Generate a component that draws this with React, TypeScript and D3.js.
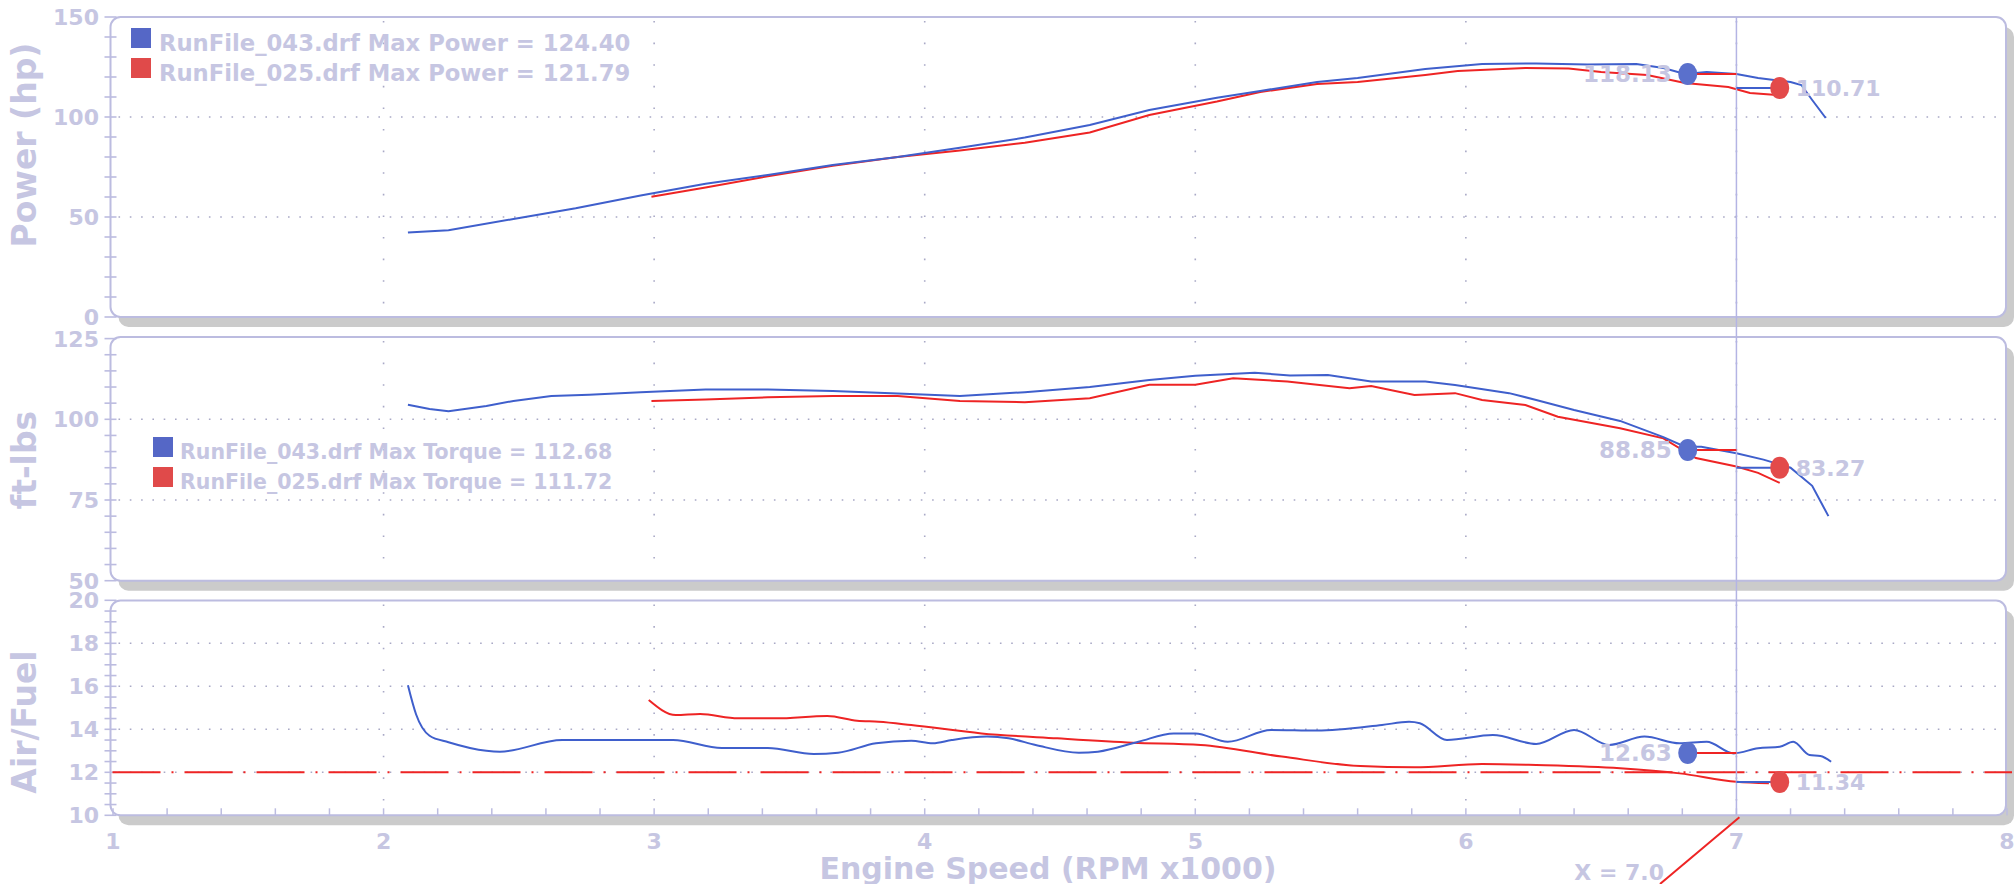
import React from "react";
import * as d3 from "d3";

// ---------- data ----------
const rpmTicks = [1, 2, 3, 4, 5, 6, 7, 8];
const powerTicks = [0, 50, 100, 150];
const torqueTicks = [50, 75, 100, 125];
const afTicks = [10, 12, 14, 16, 18, 20];
const powerGrid = [50, 100];
const torqueGrid = [75, 100];
const afGrid = [12, 14, 16, 18];

const legendPower = ["RunFile_043.drf Max Power = 124.40", "RunFile_025.drf Max Power = 121.79"];
const legendTorque = ["RunFile_043.drf Max Torque = 112.68", "RunFile_025.drf Max Torque = 111.72"];

// run 043 (blue)
const powerBlue: [number, number][] = [
  [2.09, 42.2], [2.24, 43.4], [2.48, 49], [2.71, 54.4], [2.95, 60.8], [3.19, 66.6], [3.42, 71],
  [3.66, 76], [3.9, 80], [4.13, 84.6], [4.37, 89.7], [4.61, 96], [4.83, 103.5], [5.08, 109.6],
  [5.24, 113], [5.45, 117.5], [5.6, 119.5], [5.85, 124], [6.06, 126.5], [6.26, 126.8], [6.45, 126.3],
  [6.63, 126.5], [6.73, 124.5], [6.81, 121.5], [6.89, 122.5], [7.0, 121.5], [7.08, 119.5], [7.2, 117.5],
  [7.24, 116], [7.28, 108.5], [7.33, 99.5],
];
// run 025 (red)
const powerRed: [number, number][] = [
  [2.99, 60.1], [3.19, 64.7], [3.42, 70.4], [3.66, 75.6], [3.9, 80], [4.13, 83.3], [4.37, 87.1],
  [4.61, 92.3], [4.83, 101], [5.08, 107.7], [5.24, 112.5], [5.45, 116.5], [5.6, 117.5], [5.85, 121],
  [5.97, 123], [6.22, 124.5], [6.38, 124.3], [6.5, 122.5], [6.67, 121], [6.81, 117], [6.97, 115],
  [7.05, 112], [7.15, 111],
];
const torqueBlue: [number, number][] = [
  [2.09, 104.5], [2.17, 103.2], [2.24, 102.5], [2.38, 104.1], [2.48, 105.7], [2.62, 107.2], [2.76, 107.6],
  [2.95, 108.4], [3.19, 109.2], [3.42, 109.2], [3.66, 108.8], [3.9, 108], [4.13, 107.2], [4.37, 108.4],
  [4.61, 110], [4.83, 112.2], [5.0, 113.5], [5.22, 114.4], [5.35, 113.6], [5.49, 113.7], [5.65, 111.7],
  [5.85, 111.7], [5.96, 110.6], [6.16, 108.1], [6.26, 106], [6.4, 102.9], [6.57, 99.5], [6.73, 94.5],
  [6.81, 91.5], [6.87, 91.5], [7.0, 89.5], [7.1, 87.5], [7.2, 85], [7.28, 79.4], [7.34, 70],
];
const torqueRed: [number, number][] = [
  [2.99, 105.7], [3.19, 106.1], [3.42, 106.8], [3.66, 107.2], [3.9, 107.2], [4.13, 105.7], [4.37, 105.3],
  [4.61, 106.5], [4.83, 110.7], [5.0, 110.7], [5.14, 112.7], [5.34, 111.7], [5.57, 109.6], [5.65, 110.3],
  [5.81, 107.5], [5.96, 108.1], [6.06, 106], [6.22, 104.4], [6.34, 100.8], [6.57, 97.2], [6.73, 94.1],
  [6.85, 88], [7.0, 85.4], [7.08, 83.4], [7.16, 80.3],
];
const afBlue: [number, number][] = [
  [2.09, 16.05], [2.12, 14.7], [2.17, 13.7], [2.24, 13.4], [2.38, 13.0], [2.43, 12.96], [2.66, 13.5],
  [3.01, 13.5], [3.07, 13.5], [3.25, 13.13], [3.42, 13.13], [3.59, 12.85], [3.68, 12.91], [3.82, 13.35],
  [3.95, 13.47], [4.03, 13.35], [4.1, 13.5], [4.23, 13.66], [4.31, 13.58], [4.41, 13.27], [4.57, 12.91],
  [4.64, 12.96], [4.79, 13.42], [4.92, 13.81], [5.0, 13.81], [5.12, 13.42], [5.28, 13.97], [5.45, 13.94],
  [5.69, 14.2], [5.79, 14.35], [5.83, 14.28], [5.93, 13.5], [6.1, 13.73], [6.26, 13.32], [6.4, 13.97],
  [6.53, 13.27], [6.66, 13.66], [6.79, 13.35], [6.89, 13.42], [6.99, 12.88], [7.08, 13.12], [7.16, 13.19],
  [7.21, 13.42], [7.27, 12.8], [7.31, 12.76], [7.35, 12.49],
];
const afRed: [number, number][] = [
  [2.98, 15.36], [3.08, 14.66], [3.17, 14.71], [3.31, 14.51], [3.45, 14.51], [3.64, 14.62], [3.75, 14.4],
  [3.83, 14.35], [3.95, 14.2], [4.21, 13.81], [4.49, 13.58], [4.77, 13.38], [5.02, 13.27], [5.32, 12.73],
  [5.61, 12.29], [5.81, 12.23], [6.06, 12.39], [6.26, 12.34], [6.57, 12.19], [6.79, 11.95], [7.0, 11.56],
  [7.12, 11.49],
];
const afTarget = 12;

const cursorRpm = 7.0;
const markerRpm = [6.82, 7.16]; // blue, red
const powerMarker = [121.5, 114.5];
const powerMarkerText = ["118.13", "110.71"];
const torqueMarker = [90.5, 85];
const torqueMarkerText = ["88.85", "83.27"];
const afMarker = [12.9, 11.55];
const afMarkerText = ["12.63", "11.34"];

// ---------- styles ----------
const BLUE = "#3f5fcc";
const RED = "#ee2424";
const TXT = "#c6c6e2";
const AXIS = "#bcbce0";
const GRID = "#a9a9c6";
const FONT = "'DejaVu Sans', Verdana, sans-serif";

export default function App() {
  const x = d3.scaleLinear().domain([1, 8]).range([113, 2007]);
  const left = 110.5;
  const right = 2006;

  const panels = [
    { top: 17, bottom: 317, y: d3.scaleLinear().domain([0, 150]).range([317, 17]), ticks: powerTicks, minor: d3.range(0, 151, 10), grid: powerGrid, title: "Power (hp)", titleY: 145 },
    { top: 337, bottom: 580.7, y: d3.scaleLinear().domain([50, 125]).range([580.7, 338.6]), ticks: torqueTicks, minor: d3.range(50, 126, 5), grid: torqueGrid, title: "ft-lbs", titleY: 460 },
    { top: 600.5, bottom: 815.3, y: d3.scaleLinear().domain([10, 20]).range([815.3, 600.3]), ticks: afTicks, minor: d3.range(10, 20.01, 0.5), grid: afGrid, title: "Air/Fuel", titleY: 722 },
  ];
  const [pP, pT, pA] = panels;

  const mk = (ys: d3.ScaleLinear<number, number>, curve: d3.CurveFactory = d3.curveLinear) =>
    d3.line<[number, number]>().x((d) => x(d[0])).y((d) => ys(d[1])).curve(curve);

  const cx = x(cursorRpm);

  const markerGroup = (ys: d3.ScaleLinear<number, number>, vals: number[], texts: string[], key: string) => {
    const bx = x(markerRpm[0]);
    const rx = x(markerRpm[1]);
    const by = ys(vals[0]);
    const ry = ys(vals[1]);
    return (
      <g key={key}>
        <line x1={bx} x2={cx} y1={by} y2={by} stroke={RED} strokeWidth={2} />
        <line x1={cx} x2={rx} y1={ry} y2={ry} stroke={BLUE} strokeWidth={2} />
        <ellipse cx={bx} cy={by} rx={9.5} ry={11} fill="#5a70cc" />
        <ellipse cx={rx} cy={ry} rx={9.5} ry={11} fill="#e34a4a" />
        <text x={bx - 16} y={by + 8} textAnchor="end" fontSize={23} fontWeight="bold" fill={TXT} fontFamily={FONT}>{texts[0]}</text>
        <text x={rx + 16} y={ry + 8} textAnchor="start" fontSize={22} fontWeight="bold" fill={TXT} fontFamily={FONT}>{texts[1]}</text>
      </g>
    );
  };

  return (
    <svg width={2016} height={884} style={{ position: "absolute", left: 0, top: 0, background: "#fff" }}>
      <rect x={0} y={0} width={2016} height={884} fill="#fff" />
      {panels.map((p, i) => (
        <g key={"panel" + i}>
          <rect x={left + 8} y={p.top + 10} width={right - left} height={p.bottom - p.top} rx={10} fill="#cbcbcb" />
          <rect x={left} y={p.top} width={right - left} height={p.bottom - p.top} rx={10} fill="#fff" stroke={AXIS} strokeWidth={2} />
          {/* vertical dotted grid */}
          {rpmTicks.slice(1, -1).map((r) => (
            <line key={r} x1={x(r)} x2={x(r)} y1={p.top + 4} y2={p.bottom - 4} stroke={GRID} strokeWidth={1.6} strokeDasharray="1.6 20" />
          ))}
          {/* horizontal dotted grid */}
          {p.grid.map((g) => (
            <line key={g} x1={left + 8} x2={right - 6} y1={p.y(g)} y2={p.y(g)} stroke={GRID} strokeWidth={1.6} strokeDasharray="1.6 9.7" />
          ))}
          {/* y ticks */}
          {p.minor.map((m) => (
            <line key={"t" + m} x1={left - 6} x2={left + 6} y1={p.y(m)} y2={p.y(m)} stroke={AXIS} strokeWidth={1.6} />
          ))}
          {p.ticks.map((t) => (
            <text key={"l" + t} x={99} y={p.y(t) + 8} textAnchor="end" fontSize={22} fontWeight="bold" fill={TXT} fontFamily={FONT}>{t}</text>
          ))}
          <text transform={`translate(36,${p.titleY}) rotate(-90)`} textAnchor="middle" fontSize={33} fontWeight="bold" fill={TXT} fontFamily={FONT}>{p.title}</text>
        </g>
      ))}

      {/* target A/F line */}
      <line x1={left + 2} x2={2012} y1={pA.y(afTarget)} y2={pA.y(afTarget)} stroke={RED} strokeWidth={2} strokeDasharray="48 11 2 11" />

      {/* x ticks on A/F panel */}
      {d3.range(1, 8.001, 0.2).map((r) => (
        <line key={"xt" + r} x1={x(r)} x2={x(r)} y1={pA.bottom - 7} y2={pA.bottom} stroke={AXIS} strokeWidth={1.5} />
      ))}
      {rpmTicks.map((r) => (
        <text key={"xl" + r} x={x(r)} y={849} textAnchor="middle" fontSize={22} fontWeight="bold" fill={TXT} fontFamily={FONT}>{r}</text>
      ))}
      <text x={1048} y={879} textAnchor="middle" fontSize={30} fontWeight="bold" fill={TXT} fontFamily={FONT}>Engine Speed (RPM x1000)</text>

      {/* data lines */}
      <path d={mk(pP.y)(powerRed) || ""} fill="none" stroke={RED} strokeWidth={2} />
      <path d={mk(pP.y)(powerBlue) || ""} fill="none" stroke={BLUE} strokeWidth={2} />
      <path d={mk(pT.y)(torqueRed) || ""} fill="none" stroke={RED} strokeWidth={2} />
      <path d={mk(pT.y)(torqueBlue) || ""} fill="none" stroke={BLUE} strokeWidth={2} />
      <path d={mk(pA.y, d3.curveMonotoneX)(afRed) || ""} fill="none" stroke={RED} strokeWidth={2} />
      <path d={mk(pA.y, d3.curveMonotoneX)(afBlue) || ""} fill="none" stroke={BLUE} strokeWidth={2} />

      {/* cursor */}
      <line x1={cx} x2={cx} y1={pP.top} y2={pA.bottom} stroke="#b4b4e4" strokeWidth={1.5} />
      <line x1={cx + 3} y1={pA.bottom + 2} x2={1660} y2={884} stroke={RED} strokeWidth={2} />
      <text x={1664} y={880} textAnchor="end" fontSize={22} fontWeight="bold" fill={TXT} fontFamily={FONT}>X = 7.0</text>

      {markerGroup(pP.y, powerMarker, powerMarkerText, "mp")}
      {markerGroup(pT.y, torqueMarker, torqueMarkerText, "mt")}
      {markerGroup(pA.y, afMarker, afMarkerText, "ma")}

      {/* legends */}
      {legendPower.map((t, i) => (
        <g key={"lp" + i}>
          <rect x={131} y={28 + i * 30} width={20} height={20} fill={i === 0 ? "#5567c6" : "#e04a4a"} />
          <text x={159} y={51 + i * 30} fontSize={22.7} fontWeight="bold" fill={TXT} fontFamily={FONT}>{t}</text>
        </g>
      ))}
      {legendTorque.map((t, i) => (
        <g key={"lt" + i}>
          <rect x={153} y={437 + i * 30} width={20} height={20} fill={i === 0 ? "#5567c6" : "#e04a4a"} />
          <text x={180} y={459 + i * 30} fontSize={20.5} fontWeight="bold" fill={TXT} fontFamily={FONT}>{t}</text>
        </g>
      ))}
    </svg>
  );
}
